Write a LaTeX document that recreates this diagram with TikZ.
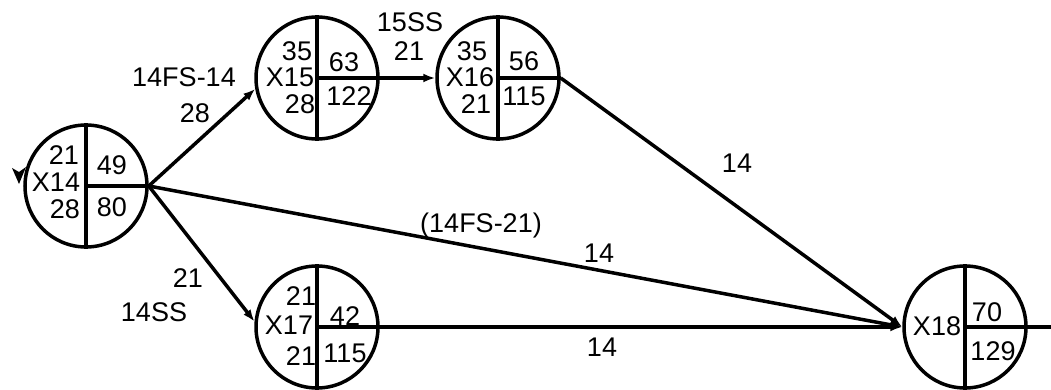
\documentclass[tikz,border=0pt]{standalone}
\usepackage{fontspec}
\setmainfont{Liberation Sans}
\usetikzlibrary{arrows.meta}
\begin{document}
\begin{tikzpicture}[x=1pt,y=-1pt,
  ev/.style={circle,draw,line width=3.5pt,minimum size=122pt,inner sep=0pt},
  div/.style={line width=4.5pt},
  lbl/.style={inner sep=0pt,text height=19pt,text depth=0pt,font=\fontsize{27}{27}\selectfont},
  con/.style={line width=3.5pt,-{Latex[length=12pt,width=9pt]}},
  plain/.style={line width=3.5pt}]
\useasboundingbox (0,0) rectangle (1051,390);
% events
\node[ev] (X14) at (86,186) {};
\node[ev] (X15) at (317,78) {};
\node[ev] (X16) at (498,78) {};
\node[ev] (X17) at (317,327) {};
\node[ev] (X18) at (965,327) {};
% dividers
\foreach \n in {X14,X15,X16,X17,X18}{
  \draw[div] (\n.north) -- (\n.south);
  \draw[div] (\n.center) -- (\n.east);
}
% node texts
\node[lbl] (t14a) at (64,155) {21};
\node[lbl] (t14b) at (56,182) {X14};
\node[lbl] (t14c) at (65,209) {28};
\node[lbl] (t14d) at (112,165) {49};
\node[lbl] (t14e) at (112,207) {80};
\node[lbl] (t15a) at (297,51) {35};
\node[lbl] (t15b) at (290,77) {X15};
\node[lbl] (t15c) at (300,104) {28};
\node[lbl] (t15d) at (344,62) {63};
\node[lbl] (t15e) at (349,96) {122};
\node[lbl] (t16a) at (472,51) {35};
\node[lbl] (t16b) at (470,77) {X16};
\node[lbl] (t16c) at (476,104) {21};
\node[lbl] (t16d) at (524,61) {56};
\node[lbl] (t16e) at (524,96) {115};
\node[lbl] (t17a) at (301,296) {21};
\node[lbl] (t17b) at (289,325) {X17};
\node[lbl] (t17c) at (301,356) {21};
\node[lbl] (t17d) at (345,316) {42};
\node[lbl] (t17e) at (345,353) {115};
\node[lbl] (t18b) at (937,326) {X18};
\node[lbl] (t18d) at (987,312) {70};
\node[lbl] (t18e) at (993,351) {129};
% connectors
\draw[con] (X14.east) -- (X15.190);
\draw[con] (X14.east) -- (X17.175);
\draw[con] (X14.east) -- (X18.west);
\draw[con] (X15.east) -- (X16.west);
\draw[con] (X16.east) -- (X18.west);
\draw[con] (X17.east) -- (X18.west);
\coordinate (out) at (1051,327);
\draw[plain] (X18.east) -- (out);
% small mark left of X14
\coordinate (mk) at (19,184);
\fill (mk) -- ++(-7,-16) -- ++(7,4) -- ++(7,-5) -- cycle;
% edge labels
\node[lbl] (e1) at (184,77) {14FS-14};
\node[lbl] (e2) at (195,113) {28};
\node[lbl] (e3) at (410,22) {15SS};
\node[lbl] (e4) at (409,51) {21};
\node[lbl] (e5) at (737,163) {14};
\node[lbl] (e6) at (481,223) {(14FS-21)};
\node[lbl] (e7) at (599,253) {14};
\node[lbl] (e8) at (188,278) {21};
\node[lbl] (e9) at (154,312) {14SS};
\node[lbl] (e10) at (602,347) {14};
\end{tikzpicture}
\end{document}
